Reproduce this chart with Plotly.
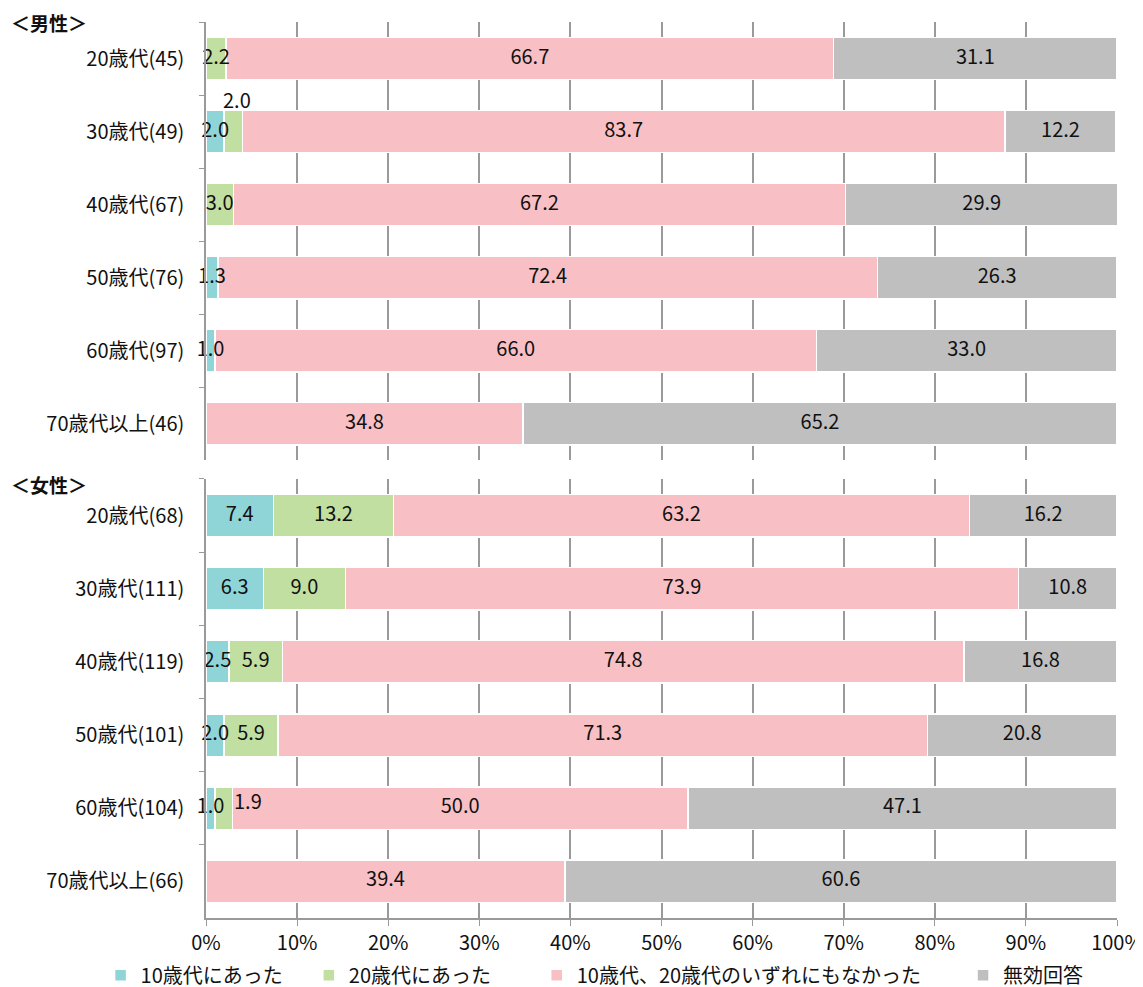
import plotly.graph_objects as go

# ---------------- data ----------------
male_cats = ["20歳代(45)", "30歳代(49)", "40歳代(67)", "50歳代(76)", "60歳代(97)", "70歳代以上(46)"]
female_cats = ["20歳代(68)", "30歳代(111)", "40歳代(119)", "50歳代(101)", "60歳代(104)", "70歳代以上(66)"]

series_names = ["10歳代にあった", "20歳代にあった", "10歳代、20歳代のいずれにもなかった", "無効回答"]

male_teens = [0, 2.0, 0, 1.3, 1.0, 0]
male_twenties = [2.2, 2.0, 3.0, 0, 0, 0]
male_neither = [66.7, 83.7, 67.2, 72.4, 66.0, 34.8]
male_invalid = [31.1, 12.2, 29.9, 26.3, 33.0, 65.2]

female_teens = [7.4, 6.3, 2.5, 2.0, 1.0, 0]
female_twenties = [13.2, 9.0, 5.9, 5.9, 1.9, 0]
female_neither = [63.2, 73.9, 74.8, 71.3, 50.0, 39.4]
female_invalid = [16.2, 10.8, 16.8, 20.8, 47.1, 60.6]

x_ticks = [0, 10, 20, 30, 40, 50, 60, 70, 80, 90, 100]
x_tick_labels = ["0%", "10%", "20%", "30%", "40%", "50%", "60%", "70%", "80%", "90%", "100%"]

colors = ["#8fd4d7", "#c1dfa1", "#f8c0c4", "#bfbfbf"]

# labels displaced in the original (panel, series index, row index, xshift, yshift)
displaced = [("m", 1, 1, 4, 32), ("f", 1, 4, 24, 8)]

FONT = "Noto Sans CJK JP, Noto Sans, sans-serif"
FS = 20
TXT = "#111111"

fig = go.Figure()

panels = {
    "m": (male_cats, [male_teens, male_twenties, male_neither, male_invalid], "x", "y"),
    "f": (female_cats, [female_teens, female_twenties, female_neither, female_invalid], "x2", "y2"),
}

legend_ids = ["legend", "legend2", "legend3", "legend4"]

annotations = []
for key, (cats, data, xa, ya) in panels.items():
    for si, vals in enumerate(data):
        fig.add_trace(go.Bar(
            y=cats, x=vals, orientation="h",
            name=series_names[si],
            marker=dict(color=colors[si], line=dict(color="white", width=1.5)),
            xaxis=xa, yaxis=ya, width=0.58,
            showlegend=(key == "f"), legend=legend_ids[si],
            hoverinfo="skip",
        ))
    # value labels at segment centres (drawn above all bars)
    lx, ly, lt = [], [], []
    for si, vals in enumerate(data):
        for ri, v in enumerate(vals):
            if v == 0:
                continue
            cum = sum(data[k][ri] for k in range(si))
            disp = [d for d in displaced if d[0] == key and d[1] == si and d[2] == ri]
            if disp:
                _, _, _, xs, ys = disp[0]
                annotations.append(dict(
                    x=cum + v / 2, y=cats[ri], xref=xa, yref=ya,
                    text=f"{v:.1f}", showarrow=False, xshift=xs, yshift=ys,
                    font=dict(color=TXT, size=FS, family=FONT),
                ))
                continue
            lx.append(cum + v / 2)
            ly.append(cats[ri])
            lt.append(f"{v:.1f}")
    fig.add_trace(go.Scatter(
        x=lx, y=ly, text=lt, mode="text", textposition="middle center",
        textfont=dict(color=TXT, size=FS, family=FONT), cliponaxis=False,
        xaxis=xa, yaxis=ya, showlegend=False, hoverinfo="skip",
    ))

annotations.append(dict(x=-0.216, y=1.0, xref="paper", yref="paper", xanchor="left", yanchor="middle",
                        text="<b>＜男性＞</b>", showarrow=False, yshift=0,
                        font=dict(size=19, family=FONT, color=TXT)))
annotations.append(dict(x=-0.216, y=0.49, xref="paper", yref="paper", xanchor="left", yanchor="middle",
                        text="<b>＜女性＞</b>", showarrow=False, yshift=-6,
                        font=dict(size=19, family=FONT, color=TXT)))

grid = "#9a9a9a"
xcommon = dict(range=[0, 100], tickvals=x_ticks, ticktext=x_tick_labels, showgrid=True,
               gridcolor=grid, gridwidth=1.5, zeroline=False, fixedrange=True)
ycommon = dict(type="category", autorange="reversed", showline=True, linecolor=grid, linewidth=1.5,
               ticks="outside", tickson="boundaries", ticklen=5, tickcolor=grid,
               tickfont=dict(size=FS, family=FONT, color=TXT), ticklabelstandoff=16)

# page body adds an 8px margin, so the figure is 8px smaller and margins shifted
fig.update_layout(
    width=1135, height=979,
    margin=dict(l=198, r=26, t=14, b=69, autoexpand=False),
    paper_bgcolor="white", plot_bgcolor="white",
    barmode="stack", bargap=0.42,
    font=dict(family=FONT, size=FS, color=TXT),
    xaxis=dict(**xcommon, domain=[0, 1], anchor="y", showticklabels=False),
    yaxis=dict(**ycommon, domain=[0.511, 1], anchor="x"),
    xaxis2=dict(**xcommon, domain=[0, 1], anchor="y2", showticklabels=True,
                ticks="outside", ticklen=6, tickcolor=grid, showline=True, linecolor=grid, linewidth=1.5,
                tickfont=dict(size=FS, family=FONT, color=TXT)),
    yaxis2=dict(**ycommon, domain=[0, 0.49], anchor="x2"),
    annotations=annotations,
)

legend_x = [-0.1157, 0.1129, 0.363, 0.831]
for lid, lx_ in zip(legend_ids, legend_x):
    fig.update_layout({lid: dict(x=lx_, y=-0.064, xanchor="left", yanchor="middle", orientation="h",
                                 bgcolor="rgba(0,0,0,0)", itemwidth=30,
                                 font=dict(size=FS, family=FONT, color=TXT))})

fig.write_html("out.html")
